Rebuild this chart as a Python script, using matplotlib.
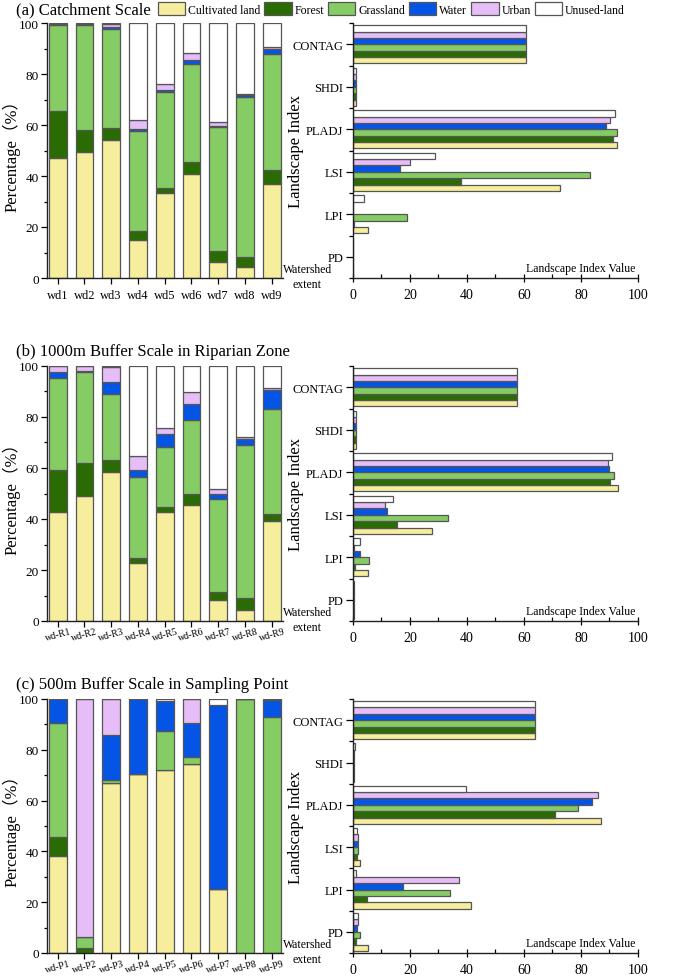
import matplotlib
matplotlib.use("Agg")
import matplotlib.pyplot as plt
from matplotlib.patches import Patch
from matplotlib.ticker import MultipleLocator, FixedLocator
import numpy as np

plt.rcParams['font.family'] = ['Liberation Serif', 'Noto Sans CJK SC', 'DejaVu Sans']

classes = ["Cultivated land", "Forest", "Grassland", "Water", "Urban", "Unused-land"]
colors = ["#F6EE9C", "#2A6C03", "#86CC64", "#0455E6", "#E6BDF7", "#FFFFFF"]

titles = ["(a) Catchment Scale", "(b) 1000m Buffer Scale in Riparian Zone",
          "(c) 500m Buffer Scale in Sampling Point"]

sites_a = ["wd1", "wd2", "wd3", "wd4", "wd5", "wd6", "wd7", "wd8", "wd9"]
sites_b = ["wd-R1", "wd-R2", "wd-R3", "wd-R4", "wd-R5", "wd-R6", "wd-R7", "wd-R8", "wd-R9"]
sites_c = ["wd-P1", "wd-P2", "wd-P3", "wd-P4", "wd-P5", "wd-P6", "wd-P7", "wd-P8", "wd-P9"]

# land-use composition (%) per site: cultivated, forest, grassland, water, urban, unused
comp_a = [
    [47.0, 18.5, 33.7, 0.4, 0.2, 0.2],
    [49.3, 8.7, 41.4, 0.3, 0.1, 0.2],
    [54.0, 5.0, 38.8, 0.8, 1.0, 0.4],
    [14.8, 3.5, 39.3, 0.8, 3.6, 38.0],
    [33.2, 2.0, 37.8, 0.8, 2.4, 23.8],
    [40.8, 4.6, 38.6, 1.6, 2.7, 11.7],
    [6.2, 4.4, 48.7, 0.5, 1.4, 38.8],
    [4.2, 4.1, 62.7, 0.8, 0.5, 27.7],
    [36.9, 5.4, 45.5, 2.2, 0.6, 9.4],
]
comp_b = [
    [42.7, 16.5, 36.1, 2.2, 2.5, 0.0],
    [49.0, 13.1, 35.5, 0.6, 1.8, 0.0],
    [58.6, 4.7, 25.8, 4.6, 6.1, 0.2],
    [22.9, 1.7, 31.8, 3.0, 5.3, 35.3],
    [42.7, 1.9, 23.6, 5.3, 2.1, 24.4],
    [45.6, 4.2, 29.2, 6.0, 4.8, 10.2],
    [8.3, 2.9, 36.6, 1.9, 1.9, 48.4],
    [4.4, 4.8, 59.7, 2.4, 0.7, 28.0],
    [39.2, 2.6, 41.2, 7.5, 0.7, 8.8],
]
comp_c = [
    [38.0, 7.8, 44.6, 9.6, 0.0, 0.0],
    [0.0, 1.8, 4.6, 0.0, 93.6, 0.0],
    [67.0, 0.0, 1.3, 17.4, 14.3, 0.0],
    [70.5, 0.0, 0.0, 29.5, 0.0, 0.0],
    [72.2, 0.0, 15.1, 11.9, 0.0, 0.8],
    [74.5, 0.0, 2.5, 13.6, 9.4, 0.0],
    [25.1, 0.0, 0.0, 72.5, 0.0, 2.4],
    [0.0, 0.0, 100.0, 0.0, 0.0, 0.0],
    [0.0, 0.0, 93.0, 6.6, 0.0, 0.4],
]

indices = ["PD", "LPI", "LSI", "PLADJ", "SHDI", "CONTAG"]
# landscape index values per class, in order PD, LPI, LSI, PLADJ, SHDI, CONTAG
idx_a = {
    "Cultivated land": [0.1, 5.3, 72.8, 92.7, 1.1, 60.6],
    "Forest": [0.1, 0.5, 37.9, 91.3, 1.0, 60.6],
    "Grassland": [0.1, 18.9, 83.1, 92.7, 0.9, 60.6],
    "Water": [0.1, 0.1, 16.4, 88.7, 1.0, 60.6],
    "Urban": [0.1, 0.1, 19.9, 90.3, 0.9, 60.6],
    "Unused-land": [0.1, 3.7, 28.9, 92.0, 1.2, 60.6],
}
idx_b = {
    "Cultivated land": [0.5, 5.1, 27.7, 93.0, 1.0, 57.5],
    "Forest": [0.3, 0.8, 15.6, 90.3, 1.1, 57.5],
    "Grassland": [0.3, 5.6, 33.4, 91.7, 1.0, 57.5],
    "Water": [0.3, 2.3, 12.1, 90.0, 1.1, 57.5],
    "Urban": [0.3, 0.4, 11.4, 89.5, 1.0, 57.5],
    "Unused-land": [0.3, 2.4, 14.0, 91.0, 1.2, 57.5],
}
idx_c = {
    "Cultivated land": [5.2, 41.5, 2.6, 87.0, 0.5, 63.8],
    "Forest": [1.2, 4.8, 1.5, 70.8, 0.5, 63.8],
    "Grassland": [2.4, 34.2, 1.7, 79.1, 0.5, 63.8],
    "Water": [1.5, 17.4, 1.9, 83.8, 0.5, 63.8],
    "Urban": [1.6, 37.3, 1.7, 85.8, 0.5, 63.8],
    "Unused-land": [1.6, 0.9, 1.3, 39.5, 0.6, 63.8],
}

W, H = 685, 978
fig = plt.figure(figsize=(W / 100, H / 100), dpi=100)

rows = [(24, 279), (367, 622), (700, 954)]
title_y = [10, 352, 685]
sites_all = [sites_a, sites_b, sites_c]
comp_all = [comp_a, comp_b, comp_c]
idx_all = [idx_a, idx_b, idx_c]
rot = [0, 15, 15]
xfs = [9, 7, 7]
edge = "#555555"

for r in range(3):
    top, bot = rows[r]
    axL = fig.add_axes([47 / W, 1 - bot / H, 236 / W, (bot - top) / H])
    axR = fig.add_axes([353 / W, 1 - bot / H, 285 / W, (bot - top) / H])

    # stacked bars
    comp = np.array(comp_all[r])
    x = np.arange(len(sites_all[r]))
    bottom = np.zeros(len(x))
    for k in range(len(classes)):
        axL.bar(x, comp[:, k], 0.66, bottom=bottom, color=colors[k],
                edgecolor=edge, linewidth=0.9, zorder=2)
        bottom += comp[:, k]
    axL.set_xlim(-0.4, 8.42)
    axL.set_ylim(0, 100)
    axL.set_xticks(x)
    axL.set_xticklabels(sites_all[r], rotation=rot[r], fontsize=xfs[r])
    axL.yaxis.set_major_locator(MultipleLocator(20))
    axL.yaxis.set_minor_locator(MultipleLocator(10))
    axL.tick_params(axis='y', labelsize=9.5, length=4, width=0.9, pad=2)
    axL.tick_params(axis='y', which='minor', length=2.5, width=0.9)
    axL.tick_params(axis='x', length=4, width=0.9, pad=0 if r else 4)
    for s in ["top", "right"]:
        axL.spines[s].set_visible(False)
    for s in ["left", "bottom"]:
        axL.spines[s].set_linewidth(1.0)
        axL.spines[s].set_color("#222222")
    axL.set_ylabel("Percentage（%）", fontsize=12)
    axL.yaxis.set_label_coords(-0.112, 0.5)

    fig.text(16 / W, 1 - title_y[r] / H, titles[r], fontsize=12, ha='left', va='center')

    # grouped horizontal bars
    idx = idx_all[r]
    y = np.arange(len(indices))
    h = 0.15
    for k, c in enumerate(classes):
        axR.barh(y + (k - 2.5) * h, idx[c], h, color=colors[k],
                 edgecolor=edge, linewidth=0.9, zorder=2)
    axR.set_ylim(-0.5, 5.5)
    axR.set_xlim(0, 100)
    axR.set_yticks(y)
    axR.set_yticklabels(indices, fontsize=9)
    axR.yaxis.set_minor_locator(FixedLocator(np.arange(-0.5, 5.6, 1.0)))
    axR.xaxis.set_major_locator(MultipleLocator(20))
    axR.xaxis.set_minor_locator(MultipleLocator(10))
    axR.tick_params(axis='y', length=5, width=0.9, pad=2)
    axR.tick_params(axis='y', which='minor', length=3, width=0.9)
    axR.tick_params(axis='x', labelsize=10, length=6, width=0.9, direction='inout', pad=4)
    axR.tick_params(axis='x', which='minor', length=3, width=0.9, direction='in')
    for s in ["top", "right"]:
        axR.spines[s].set_visible(False)
    for s in ["left", "bottom"]:
        axR.spines[s].set_linewidth(1.0)
        axR.spines[s].set_color("#222222")
    axR.set_ylabel("Landscape Index", fontsize=12)
    axR.yaxis.set_label_coords(-0.172, 0.5)
    axR.text(0.99, 0.04, "Landscape Index Value", transform=axR.transAxes,
             ha='right', va='center', fontsize=8.5)
    axR.text(-0.161, 0.006, "Watershed\nextent", transform=axR.transAxes,
             ha='center', va='center', fontsize=8.5, linespacing=1.25)

handles = [Patch(facecolor=colors[k], edgecolor=edge, linewidth=0.9, label=classes[k])
           for k in range(len(classes))]
fig.legend(handles=handles, loc='center left', bbox_to_anchor=(158 / W, 1 - 10 / H),
           ncol=6, frameon=False, fontsize=8.5, handlelength=2.3, handleheight=1.2,
           handletextpad=0.25, columnspacing=0.35, borderaxespad=0, borderpad=0)

fig.savefig("out.png", dpi=100)
